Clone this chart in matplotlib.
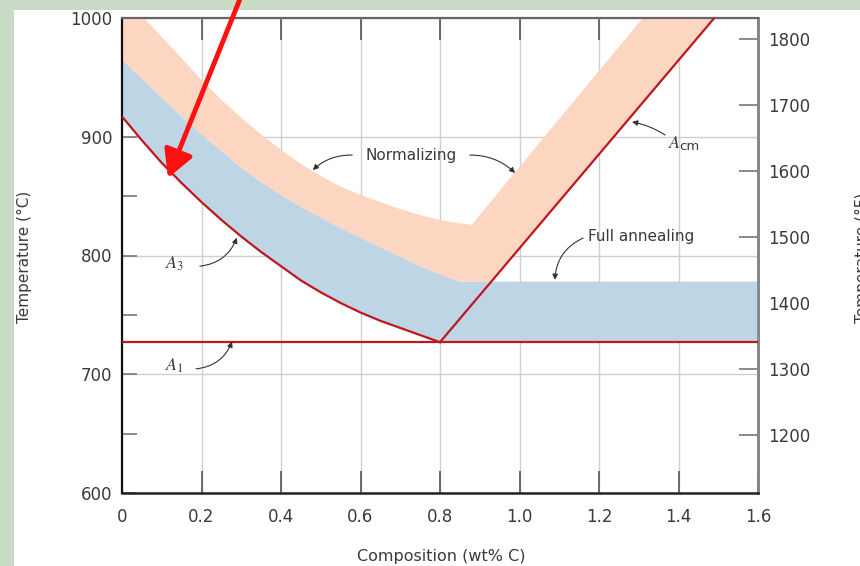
import matplotlib
matplotlib.use("Agg")
import matplotlib.pyplot as plt
from matplotlib.patches import Rectangle

plt.rcParams['font.family'] = ['DejaVu Sans']
plt.rcParams['mathtext.fontset'] = 'stix'

# ---------------- data ----------------
comp = [0.0, 0.05, 0.1, 0.15, 0.2, 0.25, 0.3, 0.35, 0.4, 0.45, 0.5,
        0.55, 0.6, 0.65, 0.7, 0.75, 0.8]
a3_temp = [917, 897, 878, 861, 845, 830, 816, 803, 791, 779, 769,
           760, 752, 745, 739, 733, 727]

band_comp = [0.0, 0.05, 0.1, 0.15, 0.2, 0.25, 0.3, 0.35, 0.4, 0.45, 0.5,
             0.55, 0.6, 0.65, 0.7, 0.75, 0.8, 0.85]
full_top_temp = [965, 949, 933, 917, 902, 888, 874, 862, 851, 841, 832,
                 823, 815, 807, 799, 791, 784, 778]
norm_top_temp = [1021, 1002, 984, 966, 948, 931, 916, 902, 889, 877, 867,
                 858, 851, 845, 839, 834, 830, 827]

a1_temp = 727
full_flat_temp = 778
acm_comp = [0.8, 1.49]
acm_temp = [727, 1000]
norm_edge_comp = [0.88, 1.31]
norm_edge_temp = [826, 1000]

x_ticks = [0, 0.2, 0.4, 0.6, 0.8, 1.0, 1.2, 1.4, 1.6]
x_tick_labels = ['0', '0.2', '0.4', '0.6', '0.8', '1.0', '1.2', '1.4', '1.6']
c_ticks = [600, 700, 800, 900, 1000]
c_minor_ticks = [650, 750, 850, 950]
f_ticks = [1200, 1300, 1400, 1500, 1600, 1700, 1800]

RED = '#c0161e'
BLUE = '#bed5e6'
ORANGE = '#fcd6c1'
TXT = '#3a3a3a'

# ---------------- figure ----------------
fig = plt.figure(figsize=(8.6, 5.66), dpi=100)
fig.patch.set_facecolor('#c9dbc5')
fig.add_artist(Rectangle((14 / 860, 0), 1, 556 / 566, transform=fig.transFigure,
                         facecolor='white', edgecolor='none', zorder=-1))

ax = fig.add_axes([122 / 860, 73 / 566, 636 / 860, 475 / 566])
ax.set_xlim(0, 1.6)
ax.set_ylim(600, 1000)
ax.set_axisbelow(True)
ax.grid(True, color='#cfcfcf', lw=1.0)

# Full annealing band
full_x = comp + [1.6, 1.6] + band_comp[::-1]
full_y = a3_temp + [a1_temp, full_flat_temp] + full_top_temp[::-1]
ax.fill(full_x, full_y, color=BLUE, lw=0, zorder=1)

# Normalizing band
x_int = acm_comp[0] + (full_flat_temp - acm_temp[0]) * (acm_comp[1] - acm_comp[0]) / (acm_temp[1] - acm_temp[0])
norm_x = band_comp + [x_int, acm_comp[1]] + norm_edge_comp[::-1] + band_comp[::-1]
norm_y = full_top_temp + [full_flat_temp, acm_temp[1]] + norm_edge_temp[::-1] + norm_top_temp[::-1]
ax.fill(norm_x, norm_y, color=ORANGE, lw=0, zorder=1)

# Phase boundaries
ax.plot(comp, a3_temp, color=RED, lw=1.6, zorder=3)
ax.plot([0, 1.6], [a1_temp, a1_temp], color=RED, lw=1.6, zorder=3)
ax.plot(acm_comp, acm_temp, color=RED, lw=1.6, zorder=3)

# Axes styling
ax.set_xticks(x_ticks)
ax.set_xticklabels(x_tick_labels)
ax.set_yticks(c_ticks)
ax.set_yticks(c_minor_ticks, minor=True)
ax.tick_params(axis='x', direction='in', length=16, width=1.2, color='#555555',
               top=True, labelsize=12, labelcolor=TXT, pad=11)
ax.tick_params(axis='y', which='both', direction='in', length=10.5, width=1.2,
               color='#777777', right=False, labelsize=12, labelcolor=TXT, pad=7)
ax.spines['left'].set_color('#111111')
ax.spines['left'].set_linewidth(1.6)
ax.spines['bottom'].set_color('#222222')
ax.spines['bottom'].set_linewidth(1.8)
ax.spines['top'].set_color('#666666')
ax.spines['top'].set_linewidth(1.6)
ax.spines['right'].set_color('#888888')
ax.spines['right'].set_linewidth(2.0)

sec = ax.secondary_yaxis('right', functions=(lambda c: c * 9 / 5 + 32,
                                             lambda f: (f - 32) * 5 / 9))
sec.set_yticks(f_ticks)
sec.tick_params(direction='in', length=14, width=1.2, color='#777777',
                labelsize=12, labelcolor=TXT, pad=7)
sec.spines['right'].set_color('#888888')
sec.spines['right'].set_linewidth(2.0)

# Annotations
arrow_kw = dict(arrowstyle='-|>', color='#333333', lw=0.8, mutation_scale=8,
                shrinkA=0, shrinkB=0)
ax.text(0.133, 793, r'$A_3$', fontsize=13, color=TXT, ha='center', va='center')
ax.annotate('', xy=(0.289, 815), xytext=(0.196, 791),
            arrowprops=dict(connectionstyle='arc3,rad=0.3', **arrow_kw))
ax.text(0.133, 707, r'$A_1$', fontsize=13, color=TXT, ha='center', va='center')
ax.annotate('', xy=(0.277, 727.5), xytext=(0.186, 704.5),
            arrowprops=dict(connectionstyle='arc3,rad=0.3', **arrow_kw))
ax.text(1.389, 895, r'$A$', fontsize=13, color=TXT, ha='center', va='center')
ax.text(1.402, 892, 'cm', fontsize=9.5, color=TXT, ha='left', va='center')
ax.annotate('', xy=(1.283, 912.5), xytext=(1.366, 901.5),
            arrowprops=dict(connectionstyle='arc3,rad=0.1', **arrow_kw))
ax.text(1.172, 815.6, 'Full annealing', fontsize=11, color=TXT, ha='left', va='center')
ax.annotate('', xy=(1.089, 779.5), xytext=(1.160, 814.7),
            arrowprops=dict(connectionstyle='arc3,rad=0.3', **arrow_kw))
ax.text(0.727, 884.6, 'Normalizing', fontsize=11, color=TXT, ha='center', va='center')
ax.annotate('', xy=(0.480, 872), xytext=(0.579, 884.6),
            arrowprops=dict(connectionstyle='arc3,rad=0.2', **arrow_kw))
ax.annotate('', xy=(0.989, 869.5), xytext=(0.875, 884.6),
            arrowprops=dict(connectionstyle='arc3,rad=-0.2', **arrow_kw))

# Big red pointer arrow
ax.annotate('', xy=(0.1157, 865.3), xytext=(242, 572), textcoords='figure pixels',
            arrowprops=dict(arrowstyle='-|>,head_length=0.55,head_width=0.3',
                            color='#ff1010', lw=3.5, mutation_scale=30,
                            shrinkA=0, shrinkB=0),
            annotation_clip=False, zorder=10)

# Axis labels
fig.text(24 / 860, 1 - 257 / 566, 'Temperature (°C)', rotation=90, ha='center',
         va='center', fontsize=11, color=TXT)
fig.text(441 / 860, 1 - 557 / 566, 'Composition (wt% C)', ha='center',
         va='center', fontsize=11.5, color=TXT)
fig.text(855 / 860, 1 - 258 / 566, 'Temperature (°F)', rotation=90, ha='left',
         va='center', fontsize=11, color=TXT)

fig.savefig('out.png', dpi=100, facecolor=fig.get_facecolor())
